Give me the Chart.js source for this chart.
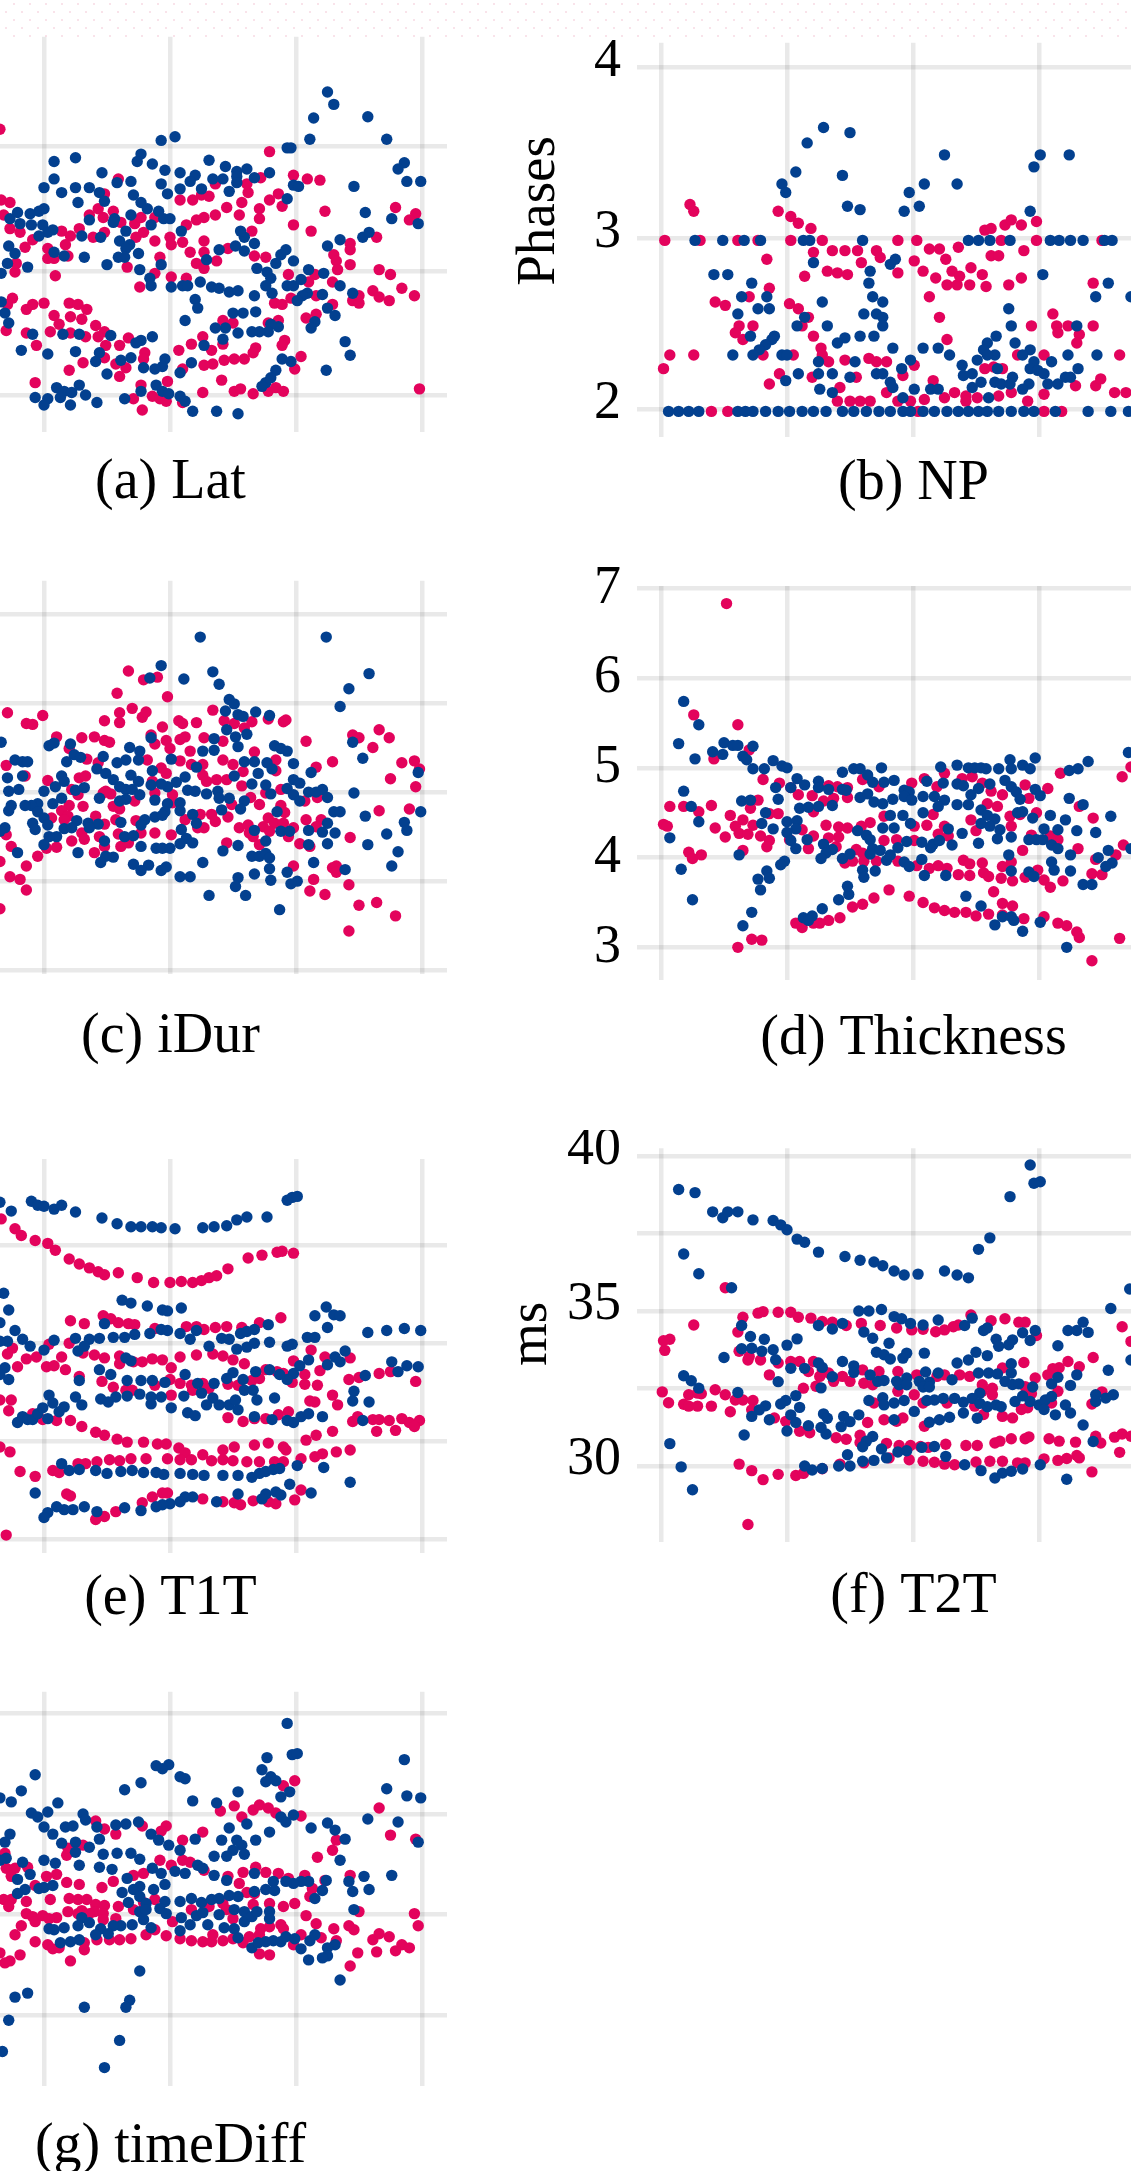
<!DOCTYPE html>
<html>
<head>
<meta charset="utf-8">
<script src="https://cdn.jsdelivr.net/npm/chart.js@4"></script>
<style>
html,body{margin:0;padding:0;background:#fff;overflow:hidden;width:1131px;height:2171px;position:relative}
canvas{position:absolute}
#strip{position:absolute;left:0;top:0;width:1131px;height:38px;background-image:url("data:image/svg+xml,%3Csvg xmlns='http://www.w3.org/2000/svg' width='16' height='16'%3E%3Crect x='13' y='3' width='2' height='2' fill='%23f9e3ea'/%3E%3Crect x='5' y='11' width='2' height='2' fill='%23f9e3ea'/%3E%3C/svg%3E")}
.ytitle{position:absolute;font-family:"Liberation Serif";font-size:55px;line-height:1;color:#000;white-space:nowrap;transform:translate(-50%,-50%) rotate(-90deg)}
</style>
</head>
<body>
<div id="strip"></div>
<div class="ytitle" style="left:535px;top:211px">Phases</div>
<div class="ytitle" style="left:527px;top:1334px">ms</div>
<script>
const xGrid = [0,100,200,300,400];
const red = "#E3035C", blue = "#03408F";

// y ticks, the left column labels are cut off in the picture so those are just grid steps
const latTicks = [100,200,300];
const npTicks = [2,3,4];
const iDurTicks = [100,200,300,400,500];
const thickTicks = [3,4,5,6,7];
const t1Ticks = [100,200,300,400];
const t2Ticks = [30,32.5,35,37.5,40];
const diffTicks = [100,200,300,400];

const latBlue = [[325,344],[330,334],[314,323],[357,324],[311,306],[372,306],[193,305],[204,308],[293,299],[296,299],[386,287],[381,282],[388,272],[399,272],[346,268],[125,291],[108,288],[177,294],[174,288],[186,286],[196,281],[208,279],[231,289],[244,284],[253,280],[261,282],[253,276],[267,275],[279,279],[220,277],[216,272],[208,266],[193,270],[198,262],[225,266],[234,274],[242,274],[247,264],[253,271],[298,269],[302,268],[293,258],[146,279],[158,271],[169,272],[108,274],[100,267],[114,263],[125,267],[136,267],[144,263],[148,256],[127,255],[171,261],[177,255],[182,250],[191,248],[195,242],[200,242],[100,250],[96,248],[89,246],[79,247],[73,242],[81,238],[90,237],[99,237],[107,233],[103,231],[96,228],[136,241],[156,242],[155,239],[169,245],[165,232],[185,237],[209,232],[130,228],[145,227],[160,224],[168,221],[165,218],[175,214],[159,211],[164,211],[150,205],[132,211],[116,212],[108,215],[87,203],[77,214],[72,220],[71,206],[66,198],[193,205],[176,201],[184,194],[185,188],[201,187],[210,188],[214,188],[224,191],[233,187],[239,186],[247,183],[254,184],[229,209],[239,217],[252,220],[259,216],[267,222],[259,227],[256,232],[269,202],[277,199],[280,194],[276,188],[281,182],[284,206],[288,213],[292,217],[298,208],[293,188],[298,188],[304,193],[310,201],[322,198],[335,188],[345,182],[325,220],[335,225],[353,227],[358,231],[355,247],[376,242],[397,238],[267,180],[220,177],[222,170],[212,160],[250,166],[258,166],[268,167],[309,182],[305,180],[301,176],[321,181],[325,170],[331,164],[315,159],[312,154],[339,143],[343,132],[324,120],[286,155],[280,157],[278,151],[271,151],[265,151],[254,150],[244,154],[242,145],[236,154],[227,140],[217,126],[208,118],[196,129],[194,123],[188,121],[179,122],[186,147],[177,144],[173,142],[153,148],[128,149],[115,149],[91,149],[69,166],[72,158],[66,175],[82,136],[103,133],[125,135],[144,134],[141,127],[169,130],[161,128],[150,117],[289,129],[296,127],[284,120],[280,114],[276,110],[273,107],[110,106],[116,103],[128,108],[122,102],[113,98],[133,100],[93,98],[103,97],[100,92],[121,92],[142,94],[164,97],[177,103],[189,108],[194,103],[199,101],[208,99],[212,95],[218,87],[237,87],[254,85]];
const latRed = [[65,314],[279,296],[298,277],[309,274],[319,273],[208,257],[218,257],[225,261],[231,260],[159,274],[148,262],[257,255],[262,263],[261,270],[272,275],[236,270],[286,262],[279,257],[271,250],[289,252],[245,251],[236,245],[255,245],[271,242],[227,243],[221,241],[213,237],[298,237],[312,232],[323,248],[379,251],[395,246],[390,241],[66,257],[73,255],[136,245],[143,250],[155,248],[147,243],[161,239],[172,238],[177,243],[188,243],[68,245],[73,234],[81,231],[85,219],[91,225],[114,232],[121,228],[128,234],[117,221],[139,227],[148,231],[173,227],[179,231],[188,224],[200,227],[201,221],[210,223],[216,215],[227,224],[227,215],[221,206],[227,202],[237,208],[246,218],[265,232],[267,212],[276,211],[364,227],[343,222],[343,217],[330,213],[332,208],[333,201],[343,205],[366,201],[375,197],[384,186],[394,180],[361,184],[366,179],[374,176],[345,176],[350,174],[350,180],[329,173],[329,191],[315,197],[310,191],[294,197],[316,180],[296,178],[283,174],[289,173],[316,165],[308,162],[286,160],[278,158],[250,158],[242,160],[103,218],[103,210],[108,210],[119,212],[109,196],[77,199],[78,206],[166,203],[192,211],[188,198],[176,187],[201,195],[213,194],[75,178],[71,173],[86,169],[91,173],[100,174],[120,174],[127,173],[134,169],[108,164],[121,163],[130,161],[112,157],[70,152],[86,150],[94,140],[105,151],[121,150],[141,156],[148,151],[143,147],[133,147],[167,146],[160,140],[149,140],[148,130],[131,126],[120,120],[157,125],[165,122],[160,115],[180,134],[179,129],[207,136],[217,141],[226,147],[242,141],[233,136],[268,138],[266,134],[259,129],[251,129],[243,128],[234,125],[227,124],[210,121],[291,144],[289,140],[304,131],[299,121],[241,112],[93,110],[198,111],[177,108],[226,102],[251,103],[256,105],[266,101],[278,103],[284,106],[290,103],[398,105],[171,97],[178,88],[186,99],[192,97],[197,95],[210,94]];

const npBlue = [[129,3.65],[150,3.62],[116,3.56],[144,3.37],[107,3.39],[96,3.32],[99,3.27],[148,3.19],[158,3.17],[193,3.16],[197,3.27],[205,3.19],[209,3.32],[225,3.49],[235,3.32],[296,3.42],[301,3.49],[324,3.49],[293,3.16],[27,2.99],[49,2.99],[66,2.99],[79,2.99],[113,2.99],[118,2.99],[160,2.99],[244,2.99],[252,2.99],[261,2.99],[277,2.99],[309,2.99],[316,2.99],[325,2.99],[335,2.99],[352,2.99],[358,2.99],[121,2.86],[182,2.85],[186,2.88],[166,2.81],[165,2.74],[42,2.79],[53,2.79],[72,2.74],[303,2.79],[355,2.74],[64,2.66],[84,2.66],[168,2.66],[176,2.63],[128,2.63],[345,2.66],[373,2.66],[61,2.56],[77,2.59],[86,2.59],[276,2.59],[161,2.56],[171,2.56],[176,2.54],[114,2.54],[132,2.49],[108,2.49],[176,2.49],[278,2.49],[330,2.49],[71,2.43],[90,2.43],[88,2.41],[158,2.43],[169,2.43],[146,2.42],[140,2.39],[266,2.43],[259,2.39],[281,2.39],[83,2.38],[78,2.35],[73,2.32],[57,2.32],[96,2.32],[100,2.32],[184,2.36],[208,2.36],[220,2.36],[229,2.32],[256,2.35],[265,2.32],[259,2.32],[293,2.35],[287,2.32],[323,2.32],[346,2.32],[125,2.28],[154,2.28],[198,2.29],[251,2.29],[239,2.26],[310,2.28],[191,2.24],[125,2.21],[136,2.21],[171,2.21],[176,2.21],[267,2.24],[296,2.28],[293,2.24],[299,2.23],[304,2.21],[331,2.24],[247,2.21],[240,2.2],[109,2.21],[99,2.17],[150,2.19],[182,2.16],[184,2.13],[254,2.16],[247,2.13],[265,2.16],[270,2.15],[279,2.19],[277,2.15],[292,2.15],[287,2.12],[307,2.15],[315,2.15],[321,2.19],[325,2.19],[126,2.12],[136,2.1],[201,2.12],[214,2.12],[220,2.12],[192,2.07],[260,2.07],[6,1.99],[14,1.99],[22,1.99],[30,1.99],[61,1.99],[67,1.99],[73,1.99],[83,1.99],[93,1.99],[102,1.99],[112,1.99],[121,1.99],[131,1.99],[144,1.99],[153,1.99],[163,1.99],[173,1.99],[182,1.99],[192,1.99],[198,1.99],[208,1.99],[217,1.99],[227,1.99],[236,1.99],[244,1.99],[252,1.99],[259,1.99],[268,1.99],[278,1.99],[288,1.99],[296,1.99],[313,1.99],[339,1.99],[357,1.99],[371,1.99]];
const npRed = [[23,3.2],[26,3.16],[93,3.16],[103,3.13],[109,3.09],[119,3.06],[3,2.99],[31,2.99],[61,2.99],[77,2.99],[103,2.99],[128,2.99],[188,2.99],[203,2.99],[270,2.99],[298,2.99],[350,2.99],[136,2.93],[146,2.93],[156,2.93],[171,2.93],[121,2.92],[84,2.88],[174,2.89],[159,2.86],[201,2.87],[213,2.94],[221,2.94],[236,2.95],[226,2.88],[257,3.05],[262,3.06],[273,3.08],[278,3.11],[286,3.08],[298,3.1],[288,2.93],[262,2.9],[268,2.9],[132,2.81],[140,2.8],[148,2.79],[114,2.78],[188,2.8],[208,2.81],[218,2.77],[231,2.81],[227,2.73],[235,2.73],[237,2.78],[245,2.73],[255,2.79],[246,2.83],[258,2.72],[276,2.73],[286,2.77],[343,2.74],[86,2.71],[70,2.66],[43,2.63],[51,2.61],[213,2.66],[102,2.62],[109,2.59],[221,2.54],[311,2.56],[117,2.54],[62,2.49],[73,2.49],[59,2.45],[65,2.41],[121,2.43],[112,2.49],[294,2.49],[314,2.49],[323,2.49],[343,2.49],[315,2.45],[332,2.44],[330,2.39],[227,2.41],[127,2.36],[128,2.32],[7,2.32],[26,2.32],[81,2.32],[105,2.32],[304,2.32],[364,2.32],[283,2.32],[133,2.28],[146,2.29],[165,2.3],[171,2.28],[179,2.28],[2,2.24],[201,2.26],[257,2.24],[94,2.21],[120,2.19],[86,2.15],[155,2.19],[192,2.2],[216,2.17],[264,2.25],[271,2.24],[329,2.14],[345,2.14],[349,2.18],[142,2.13],[179,2.1],[225,2.07],[233,2.1],[242,2.08],[251,2.07],[268,2.08],[278,2.1],[304,2.09],[360,2.1],[369,2.1],[140,2.05],[150,2.05],[158,2.05],[166,2.05],[188,2.05],[198,2.05],[209,2.06],[242,2.05],[291,2.05],[40,1.99],[53,1.99],[304,1.99],[318,1.99],[204,1.99]];

const iDurBlue = [[224,474],[324,474],[193,442],[358,433],[211,427],[234,435],[239,421],[184,428],[342,416],[335,396],[247,404],[251,399],[244,391],[254,387],[258,385],[268,390],[279,386],[245,370],[261,365],[252,362],[254,351],[235,360],[235,347],[226,346],[185,361],[283,352],[288,349],[293,346],[345,356],[353,338],[298,332],[259,334],[267,334],[277,333],[281,326],[270,321],[221,328],[201,337],[168,350],[176,346],[175,336],[165,336],[158,333],[147,340],[124,342],[129,339],[118,334],[121,354],[104,352],[108,355],[66,356],[77,336],[83,334],[87,334],[186,324],[142,326],[149,321],[155,314],[160,306],[165,303],[169,319],[175,312],[170,303],[83,318],[71,316],[114,318],[116,312],[109,306],[100,301],[125,302],[132,305],[72,301],[80,303],[312,322],[298,314],[303,310],[293,304],[310,300],[316,300],[321,303],[298,297],[303,290],[325,294],[346,299],[397,322],[251,318],[265,309],[276,308],[280,298],[212,317],[205,311],[198,306],[193,309],[185,308],[214,302],[220,301],[229,298],[238,301],[239,293],[247,293],[259,290],[256,281],[241,280],[208,288],[208,279],[198,287],[196,278],[188,291],[165,292],[160,290],[176,297],[144,293],[114,293],[107,287],[95,287],[90,285],[85,285],[74,285],[72,279],[95,278],[100,271],[91,265],[93,258],[103,263],[69,260],[65,256],[126,268],[135,265],[143,264],[116,259],[122,260],[136,260],[110,250],[104,250],[100,241],[148,245],[161,266],[188,272],[180,269],[177,263],[194,274],[164,250],[171,251],[177,239],[189,237],[194,237],[200,237],[218,275],[221,265],[209,258],[213,248],[218,243],[208,242],[285,278],[325,265],[321,255],[331,254],[325,242],[330,278],[335,278],[355,273],[372,253],[386,266],[388,257],[399,278],[357,241],[381,233],[376,217],[288,256],[295,256],[310,257],[310,241],[267,257],[276,245],[254,240],[242,234],[265,228],[271,228],[276,231],[279,226],[279,214],[226,221],[127,232],[155,227],[149,228],[145,221],[171,219],[183,218],[177,212],[193,212],[197,216],[208,205],[216,205],[267,208],[254,204],[252,194],[260,184],[231,184],[280,201],[293,210],[301,200],[296,197],[314,221],[339,213],[287,168],[79,232]];
const iDurRed = [[167,436],[179,426],[190,429],[158,411],[198,407],[170,394],[160,389],[160,378],[178,384],[181,390],[148,380],[234,392],[243,380],[251,377],[259,372],[265,379],[278,382],[290,379],[292,381],[71,389],[86,377],[91,376],[99,386],[194,373],[207,380],[210,377],[221,378],[110,362],[130,361],[140,362],[148,358],[152,356],[185,364],[188,354],[197,358],[200,349],[208,359],[212,362],[227,361],[242,357],[216,346],[308,357],[345,364],[350,361],[366,370],[374,361],[361,350],[267,345],[284,336],[329,334],[384,333],[394,335],[398,326],[375,315],[395,306],[134,337],[120,349],[182,336],[208,335],[242,336],[250,331],[217,331],[226,331],[143,333],[193,327],[197,321],[70,330],[316,328],[258,323],[284,324],[226,319],[229,312],[237,314],[245,314],[103,313],[128,316],[133,318],[122,303],[127,297],[85,318],[186,312],[257,307],[288,303],[147,299],[153,298],[149,301],[202,297],[188,299],[264,294],[276,299],[271,286],[317,294],[307,290],[288,285],[291,277],[155,284],[160,281],[172,290],[131,284],[120,285],[114,279],[119,273],[116,269],[106,271],[202,288],[224,275],[233,275],[236,267],[246,272],[249,286],[366,279],[390,281],[308,269],[157,269],[173,268],[212,269],[141,273],[148,264],[227,260],[222,260],[255,260],[262,263],[263,254],[278,271],[283,265],[274,261],[279,256],[290,265],[298,260],[294,250],[320,269],[316,261],[130,254],[132,247],[122,245],[159,253],[144,250],[148,239],[161,239],[167,243],[177,254],[188,254],[201,252],[343,249],[245,243],[266,250],[271,241],[303,242],[311,239],[70,252],[74,239],[102,237],[110,238],[140,232],[95,228],[65,222],[86,217],[73,205],[81,202],[86,190],[298,217],[329,215],[332,217],[332,210],[314,202],[342,196],[311,189],[323,185],[350,173],[364,176],[379,161],[342,144],[65,169]];

const thickBlue = [[18,5.74],[30,5.48],[14,5.27],[27,5.1],[41,5.18],[50,5.28],[49,5.15],[57,5.25],[61,5.25],[73,5.24],[65,5.13],[68,5.09],[73,4.99],[82,4.99],[89,5.08],[96,5.02],[100,5],[235,5.03],[244,5],[249,5],[254,5],[258,4.99],[268,4.99],[277,5.09],[278,4.99],[287,5.03],[293,4.99],[297,5.11],[324,4.97],[331,4.99],[339,5.07],[371,5.17],[144,4.95],[153,4.99],[158,4.99],[175,5],[222,5.01],[18,4.74],[24,4.57],[30,4.4],[7,4.22],[16,3.87],[25,3.53],[108,4.88],[114,4.81],[103,4.78],[91,4.78],[93,4.65],[125,4.85],[125,4.78],[133,4.76],[144,4.76],[147,4.75],[164,4.92],[168,4.84],[177,4.84],[185,4.86],[193,4.75],[197,4.73],[64,4.63],[71,4.64],[158,4.67],[164,4.71],[169,4.62],[176,4.6],[184,4.65],[193,4.68],[199,4.64],[211,4.85],[208,4.68],[217,4.68],[225,4.64],[220,4.57],[224,4.83],[235,4.82],[240,4.8],[252,4.77],[261,4.82],[273,4.86],[278,4.79],[282,4.73],[285,4.65],[297,4.76],[301,4.69],[324,4.66],[335,4.59],[357,4.46],[110,4.55],[117,4.56],[125,4.57],[136,4.58],[83,4.5],[80,4.38],[89,4.32],[100,4.4],[108,4.41],[107,4.32],[100,4.28],[103,4.19],[116,4.2],[107,4.1],[129,4.15],[136,4.09],[131,4.05],[127,3.99],[144,3.99],[150,4.04],[156,4.3],[163,4.25],[166,4.2],[168,4.1],[174,4.08],[166,4.04],[179,3.97],[182,4.03],[176,4.33],[185,4.33],[182,4.47],[192,4.47],[198,4.38],[208,4.5],[195,4.18],[188,4.11],[207,4.17],[216,4.15],[221,4.19],[214,4.11],[231,4.14],[228,4.32],[239,4.27],[235,4.59],[244,4.59],[246,4.7],[254,4.53],[259,4.47],[265,4.43],[254,4.38],[261,4.35],[269,4.31],[267,4.21],[252,4.16],[278,4.23],[283,4.5],[287,4.51],[295,4.44],[304,4.32],[309,4.47],[315,4.31],[321,4.42],[330,4.3],[345,4.28],[292,4.2],[298,4.2],[303,4.2],[310,4.14],[315,4.1],[276,4.03],[325,4.03],[355,4.08],[347,4],[358,3.94],[353,3.9],[373,4.1],[62,4.03],[98,3.96],[95,3.92],[84,3.85],[86,3.77],[77,3.76],[79,3.64],[72,3.39],[65,3.24],[149,3.59],[148,3.68],[141,3.53],[128,3.43],[120,3.35],[113,3.33],[117,3.3],[160,3.86],[161,3.78],[170,3.85],[193,3.95],[197,3.9],[207,3.98],[209,3.8],[226,3.8],[278,3.85],[292,3.84],[296,3.79],[310,3.95],[312,3.86],[325,3.85],[335,3.7],[342,3.7],[242,3.57],[254,3.46],[265,3.25],[271,3.34],[278,3.34],[280,3.3],[287,3.18],[301,3.28],[322,3]];
const thickRed = [[52,6.83],[26,5.59],[61,5.48],[70,5.2],[317,4.94],[366,4.9],[373,5.01],[42,5.1],[225,4.94],[239,4.88],[247,4.9],[255,4.83],[94,4.83],[81,4.87],[133,4.8],[140,4.79],[148,4.78],[160,4.87],[173,4.79],[199,4.83],[209,4.88],[219,4.79],[289,4.81],[307,4.77],[7,4.57],[18,4.57],[40,4.58],[30,4.51],[77,4.64],[71,4.55],[55,4.47],[93,4.49],[109,4.7],[103,4.78],[120,4.69],[129,4.63],[137,4.66],[148,4.67],[121,4.51],[262,4.74],[271,4.7],[292,4.66],[259,4.6],[267,4.57],[277,4.46],[285,4.48],[298,4.5],[332,4.57],[343,4.44],[2,4.37],[5,4.35],[43,4.33],[51,4.23],[59,4.35],[65,4.42],[73,4.36],[62,4.27],[69,4.26],[79,4.24],[86,4.19],[84,4.12],[86,4.49],[102,4.2],[112,4.31],[121,4.24],[131,4.36],[141,4.34],[148,4.33],[159,4.35],[166,4.39],[177,4.46],[201,4.35],[211,4.36],[216,4.48],[225,4.35],[220,4.26],[228,4.24],[246,4.42],[278,4.35],[250,4.3],[141,4.23],[139,4.12],[117,4.1],[133,4.22],[177,4.19],[201,4.19],[187,4.2],[294,4.25],[315,4.2],[309,4.24],[331,4.1],[287,4.08],[22,4.06],[32,4.03],[25,3.99],[65,4.08],[361,4.03],[367,4.14],[155,4.09],[160,4.05],[146,3.94],[152,3.96],[161,3.96],[171,3.96],[188,3.96],[203,3.91],[213,3.88],[220,3.91],[227,3.88],[240,3.97],[245,3.93],[255,3.94],[271,3.9],[278,3.95],[256,3.83],[260,3.79],[270,3.77],[279,3.74],[236,3.81],[245,3.8],[289,3.78],[299,3.86],[304,3.75],[309,3.67],[319,3.74],[342,3.82],[350,3.81],[345,3.98],[181,3.64],[197,3.57],[169,3.55],[160,3.48],[152,3.45],[142,3.33],[133,3.3],[126,3.27],[121,3.27],[112,3.22],[107,3.27],[208,3.5],[217,3.44],[225,3.41],[233,3.39],[242,3.39],[250,3.35],[260,3.37],[264,3.62],[271,3.49],[279,3.46],[271,3.36],[288,3.32],[304,3.34],[315,3.27],[322,3.24],[330,3.17],[332,3.11],[364,3.1],[342,2.85],[61,3],[72,3.09],[80,3.08]];

const t1Blue = [[65,444],[90,445],[95,441],[100,440],[108,437],[114,441],[125,434],[74,435],[146,428],[158,422],[169,419],[177,419],[186,419],[193,418],[204,417],[226,418],[235,419],[245,420],[253,426],[261,429],[277,429],[293,446],[297,449],[301,450],[68,351],[72,334],[65,321],[162,344],[169,341],[182,338],[194,334],[198,333],[209,336],[77,313],[83,304],[89,297],[71,302],[65,302],[100,293],[108,303],[125,305],[127,292],[136,304],[132,297],[144,305],[148,320],[155,306],[164,306],[172,309],[184,310],[193,314],[198,313],[208,310],[221,313],[216,304],[231,297],[241,305],[247,304],[253,294],[261,296],[267,300],[256,310],[261,312],[267,314],[278,319],[279,301],[293,297],[297,299],[309,306],[315,306],[315,328],[324,337],[330,329],[335,328],[325,316],[357,311],[372,313],[386,315],[399,313],[310,283],[303,277],[298,269],[293,263],[287,268],[279,273],[268,271],[258,263],[250,270],[245,264],[235,259],[222,259],[212,268],[196,260],[186,262],[177,262],[166,262],[153,268],[144,273],[128,262],[165,285],[169,282],[325,278],[331,286],[335,281],[339,292],[376,281],[381,271],[388,277],[397,276],[355,267],[69,275],[65,268],[72,263],[104,247],[107,239],[112,230],[116,235],[125,245],[130,237],[145,243],[151,240],[157,245],[166,246],[176,248],[185,245],[185,238],[193,245],[201,234],[211,246],[214,229],[220,226],[225,249],[234,244],[229,237],[239,237],[247,237],[252,242],[254,232],[259,252],[266,252],[269,242],[283,244],[346,251],[345,241],[358,240],[267,225],[281,222],[293,221],[298,219],[304,225],[310,228],[321,225],[353,221],[79,219],[83,225],[87,222],[91,222],[95,228],[99,234],[103,223],[114,177],[120,170],[128,171],[141,170],[150,167],[161,169],[170,170],[179,168],[189,168],[195,166],[208,167],[218,166],[227,165],[242,165],[254,165],[265,163],[271,167],[276,169],[282,171],[287,172],[301,175],[322,173],[343,158],[295,156],[312,147],[93,147],[254,146],[276,146],[284,148],[288,145],[273,141],[218,143],[212,143],[208,138],[200,136],[194,135],[189,133],[237,138],[177,129],[164,132],[142,128],[132,133],[123,130],[116,130],[110,133],[103,127],[100,122]];
const t1Red = [[66,427],[77,417],[82,410],[93,405],[103,402],[109,395],[120,386],[128,381],[136,377],[143,373],[148,370],[159,372],[174,367],[187,362],[200,362],[209,363],[218,362],[225,364],[231,367],[237,369],[246,376],[262,387],[273,390],[285,393],[289,394],[298,392],[121,323],[132,320],[147,328],[153,325],[159,321],[167,320],[172,319],[188,315],[213,317],[221,317],[227,314],[236,316],[245,317],[257,316],[271,321],[288,326],[104,299],[120,300],[131,290],[140,288],[148,285],[160,287],[160,279],[171,281],[178,281],[186,284],[194,283],[201,275],[208,286],[221,288],[234,289],[242,287],[250,283],[259,279],[312,293],[298,282],[323,286],[343,285],[75,295],[71,289],[86,284],[94,286],[79,276],[102,276],[108,277],[114,286],[117,273],[128,266],[319,272],[342,263],[350,265],[366,269],[375,271],[395,261],[146,261],[155,255],[165,252],[170,252],[188,257],[200,263],[208,259],[217,257],[226,259],[231,254],[246,258],[254,257],[265,262],[271,264],[276,273],[285,271],[290,269],[297,260],[307,268],[307,258],[317,257],[65,242],[74,242],[72,231],[201,247],[218,252],[329,247],[333,237],[311,241],[315,240],[91,228],[99,222],[110,221],[121,221],[130,215],[141,209],[148,206],[158,202],[166,199],[179,199],[190,197],[197,197],[207,193],[212,188],[246,224],[258,220],[267,223],[276,223],[286,227],[294,230],[345,220],[349,225],[361,222],[366,222],[374,221],[384,223],[390,219],[398,221],[394,215],[364,210],[379,211],[329,210],[316,206],[308,201],[73,189],[65,194],[81,169],[93,164],[107,170],[112,168],[127,177],[133,177],[142,179],[152,181],[160,180],[169,182],[181,182],[198,182],[208,181],[217,181],[226,186],[233,180],[242,191],[251,194],[242,181],[250,180],[261,179],[271,179],[267,196],[278,198],[290,194],[292,191],[283,179],[290,179],[304,182],[315,184],[321,187],[332,189],[343,191],[118,146],[121,144],[304,150],[186,143],[194,147],[198,147],[178,137],[157,128],[148,123],[141,120],[226,141],[242,138],[251,137],[256,135],[266,139],[278,138],[284,136],[299,140],[70,104]];

const t2Blue = [[293,39.71],[301,39.17],[296,39.12],[277,38.69],[14,38.92],[27,38.82],[41,38.2],[49,38.01],[53,38.2],[61,38.2],[73,37.94],[89,37.92],[95,37.78],[100,37.62],[108,37.32],[114,37.22],[125,36.9],[146,36.76],[158,36.64],[169,36.58],[176,36.46],[185,36.29],[193,36.16],[204,36.19],[225,36.29],[235,36.16],[244,36.07],[252,36.99],[261,37.36],[18,36.84],[30,36.2],[56,35.75],[372,35.71],[357,35.08],[157,35],[165,35],[175,35.05],[185,34.82],[191,34.75],[198,34.6],[208,34.55],[220,34.71],[247,34.77],[241,34.53],[125,34.53],[136,34.42],[144,34.6],[64,34.53],[161,34.32],[168,34.12],[181,33.96],[256,34.37],[259,34.45],[266,34.09],[268,33.86],[276,33.91],[279,34.07],[287,34.3],[293,34.05],[297,34.37],[315,33.88],[323,34.37],[330,34.37],[335,34.64],[339,34.31],[71,34.18],[82,34.09],[64,33.78],[72,33.8],[80,33.7],[89,33.75],[91,33.43],[108,34.1],[100,33.9],[50,33.5],[103,33.15],[114,33.15],[125,33.32],[128,33.18],[144,33.37],[153,33.23],[171,33.67],[177,33.59],[182,33.45],[192,33.48],[195,33.64],[209,33.64],[235,33.32],[244,33.42],[250,33.67],[259,33.56],[278,33.3],[210,33.03],[220,33],[213,32.7],[205,32.73],[330,32.94],[355,33.09],[373,33.42],[18,32.91],[24,32.75],[30,32.51],[61,32.37],[93,32.72],[136,32.88],[153,33.02],[127,32.52],[107,32.27],[99,32.11],[95,32],[166,32.94],[172,32.73],[177,32.76],[187,32.73],[195,32.84],[189,32.62],[195,32.62],[208,32.55],[213,32.55],[231,32.78],[252,33],[260,33],[267,32.97],[273,32.73],[278,33],[279,32.63],[284,32.65],[295,32.55],[315,32.86],[310,32.65],[325,32.6],[253,32.35],[165,32.11],[176,32.2],[177,31.97],[185,32.03],[193,32.11],[211,32.11],[217,32.13],[224,32.18],[233,32.18],[240,32.06],[247,32.18],[253,32.02],[259,31.91],[266,31.97],[270,31.91],[281,32.08],[287,32.26],[293,32.08],[300,31.97],[305,32.13],[310,32.24],[345,32.3],[345,32.08],[353,32.19],[359,32.3],[321,31.97],[240,31.71],[201,31.76],[325,31.71],[313,31.65],[304,31.82],[110,31.89],[83,31.94],[78,31.81],[72,31.6],[103,31.65],[129,31.68],[132,31.54],[145,31.6],[157,31.65],[150,31.43],[143,31.27],[86,31.49],[107,31.4],[117,31.3],[127,31.24],[131,31.03],[66,31],[100,31.13],[185,31.49],[213,31.41],[221,31.49],[229,31.57],[251,31.54],[335,31.32],[343,30.79],[7,30.72],[16,29.97],[25,29.23],[175,30.55],[168,30.95],[163,30.8],[160,30.62],[148,30.36],[188,30.45],[195,30.49],[179,30.26],[169,30.18],[160,30.15],[150,30],[141,30],[128,29.92],[120,29.87],[114,30],[207,30.6],[217,30.63],[226,30.31],[241,30.04],[254,29.85],[265,29.61],[271,29.77],[278,29.83],[287,29.9],[301,30.04],[322,29.57]];
const t2Red = [[51,35.75],[65,34.8],[77,34.93],[81,34.98],[93,34.96],[103,34.96],[109,34.8],[119,34.77],[128,34.66],[136,34.64],[147,34.53],[159,34.6],[174,34.53],[187,34.45],[199,34.39],[208,34.41],[218,34.33],[225,34.39],[232,34.49],[236,34.55],[246,34.87],[262,34.69],[273,34.75],[284,34.64],[289,34.64],[298,34.21],[26,34.55],[7,34.09],[2,34.04],[3,33.73],[61,34.32],[366,34.49],[373,34.02],[62,33.7],[69,33.42],[70,33.53],[79,33.42],[93,33.32],[103,33.37],[110,33.37],[121,33.37],[128,33.1],[133,33],[343,33.5],[288,33.34],[271,33.16],[316,33.17],[323,33.37],[332,33.2],[311,33.14],[307,32.94],[297,32.84],[86,32.94],[117,33.05],[144,32.89],[150,32.73],[160,33.1],[173,33.05],[188,33.05],[203,32.94],[219,32.89],[237,32.94],[245,32.89],[225,32.94],[255,32.62],[263,32.51],[137,32.73],[126,32.89],[161,32.67],[168,32.62],[294,32.33],[289,32.56],[1,32.39],[6,32.04],[18,31.99],[22,32.3],[29,32.35],[32,32.33],[22,31.93],[29,31.93],[40,31.93],[43,32.46],[51,32.3],[55,31.75],[59,32.13],[65,32.13],[73,32.11],[72,31.81],[113,32.51],[123,32.57],[188,32.41],[201,32.3],[208,32.03],[169,32.03],[227,32.03],[255,32.41],[263,32.3],[310,32.03],[315,32.41],[342,32],[350,32.39],[90,31.55],[99,31.44],[110,31.12],[118,31.07],[164,31.4],[177,31.49],[187,31.44],[192,31.55],[209,31.28],[249,31.93],[256,31.66],[271,31.6],[279,31.55],[286,31.82],[291,31.88],[139,30.91],[147,30.86],[158,30.99],[158,30.76],[179,30.73],[189,30.66],[198,30.66],[206,30.63],[212,30.6],[226,30.7],[242,30.66],[251,30.66],[265,30.74],[269,30.8],[278,30.88],[289,30.88],[292,30.94],[308,30.88],[316,30.8],[329,30.77],[345,30.96],[349,30.74],[360,30.93],[366,31.03],[373,30.96],[364,30.44],[62,30.06],[72,29.85],[81,29.56],[93,29.73],[107,29.69],[113,29.76],[128,29.91],[142,30.06],[161,30.1],[181,30.26],[197,30.2],[208,30.15],[217,30.12],[225,30.06],[233,30.04],[250,30.13],[261,30.15],[271,30.15],[283,30.1],[289,30.1],[304,30.23],[315,30.18],[322,30.24],[330,30.34],[332,30.26],[342,29.81],[69,28.11]];

const diffBlue = [[293,390],[297,359],[301,360],[277,356],[273,344],[280,337],[276,332],[284,333],[295,322],[288,317],[254,322],[237,311],[218,313],[208,337],[212,335],[199,349],[194,345],[189,348],[177,331],[164,324],[93,339],[82,323],[74,312],[65,316],[111,311],[103,302],[90,301],[95,297],[100,287],[107,280],[114,271],[117,287],[123,288],[131,300],[133,294],[142,287],[157,289],[165,290],[175,292],[144,275],[125,272],[125,262],[136,267],[147,260],[158,261],[169,261],[176,255],[185,280],[191,274],[199,269],[208,264],[220,275],[241,274],[247,286],[261,290],[268,274],[279,282],[288,297],[292,292],[298,299],[312,286],[325,291],[331,284],[339,275],[357,295],[372,325],[386,354],[388,318],[399,316],[381,292],[397,272],[253,274],[257,269],[250,264],[259,260],[245,258],[235,258],[73,280],[69,272],[70,256],[65,254],[83,252],[100,254],[109,251],[128,249],[144,247],[154,245],[166,236],[186,246],[193,241],[204,243],[212,241],[222,249],[226,246],[235,239],[245,234],[267,241],[335,254],[354,238],[376,239],[342,233],[345,223],[358,225],[324,234],[321,224],[315,216],[310,233],[304,233],[298,231],[292,233],[282,233],[276,225],[283,224],[267,223],[89,240],[79,235],[85,225],[79,221],[96,226],[100,227],[107,229],[196,230],[187,225],[176,228],[171,225],[162,222],[167,212],[176,218],[181,211],[196,213],[208,213],[217,216],[225,212],[233,215],[239,216],[247,219],[254,218],[176,203],[181,205],[179,195],[192,206],[197,201],[209,197],[216,190],[221,199],[226,202],[230,190],[239,200],[243,187],[251,205],[259,203],[259,193],[265,198],[269,203],[279,203],[279,196],[346,205],[185,187],[170,190],[161,189],[155,189],[145,186],[130,197],[127,189],[136,192],[116,187],[108,185],[104,186],[141,180],[151,181],[128,175],[121,173],[113,172],[208,184],[251,186],[254,177],[265,167],[270,172],[276,173],[282,174],[288,173],[292,178],[299,176],[304,166],[311,174],[315,180],[331,170],[325,167],[325,159],[321,157],[310,155],[335,135],[176,144],[168,115],[165,108],[87,122],[77,118],[72,95],[132,108],[67,64],[160,75],[148,48]];
const diffRed = [[299,333],[290,328],[251,308],[240,303],[266,304],[271,309],[278,306],[284,301],[304,298],[366,306],[257,297],[141,293],[148,285],[157,280],[178,288],[197,288],[193,283],[226,282],[210,274],[375,279],[395,275],[332,274],[329,264],[317,257],[131,269],[118,259],[119,266],[69,261],[192,254],[210,254],[201,249],[216,252],[87,247],[70,246],[77,246],[74,238],[258,242],[268,247],[276,242],[286,241],[246,238],[227,244],[179,241],[171,239],[110,240],[102,238],[118,232],[128,230],[155,233],[146,227],[93,229],[255,231],[294,236],[307,239],[323,234],[343,239],[261,222],[267,221],[313,226],[311,218],[105,215],[86,213],[74,215],[68,215],[72,208],[120,216],[127,215],[134,215],[141,210],[148,209],[159,208],[130,204],[119,203],[140,203],[147,201],[86,201],[91,198],[93,193],[99,199],[110,197],[104,196],[127,201],[136,201],[147,195],[157,196],[171,205],[179,212],[188,215],[202,193],[217,205],[231,208],[242,211],[250,196],[245,205],[266,210],[279,211],[290,208],[299,211],[308,199],[316,191],[350,203],[394,201],[397,189],[342,189],[346,185],[330,186],[82,189],[77,180],[93,173],[103,170],[107,166],[112,167],[132,165],[132,172],[142,175],[152,175],[160,175],[169,176],[181,180],[188,185],[197,179],[208,176],[217,174],[226,173],[233,173],[234,180],[242,174],[250,176],[258,172],[263,178],[271,180],[272,186],[279,188],[288,190],[290,186],[298,170],[304,180],[320,177],[332,174],[361,175],[366,181],[374,178],[271,161],[279,160],[384,170],[379,164],[390,167],[364,163],[349,162],[343,149],[81,160],[73,154],[69,152],[65,162],[121,154]];

function pts(list){ return list.map(p => ({x: p[0], y: p[1]})); }

function panel(o){
  const c = document.createElement("canvas");
  const plotStart = o.col === 1 ? 637 : -106;
  const axisW = 137;
  const w = 700;
  c.width = w; c.height = o.h;
  c.style.left = (plotStart - axisW) + "px"; c.style.top = o.top + "px";
  document.body.appendChild(c);
  const labelled = o.col === 1;
  new Chart(c, {
    type: "scatter",
    data: {datasets: [
      {data: pts(o.blue), backgroundColor: blue, pointRadius: 5.7, borderWidth: 0},
      {data: pts(o.red), backgroundColor: red, pointRadius: 5.7, borderWidth: 0}
    ]},
    options: {
      responsive: false, animation: false,
      layout: {padding: {top: o.plotTop - o.top, left: 0, right: w - axisW - 553, bottom: 0}},
      plugins: {legend: {display: false}, tooltip: {enabled: false}},
      scales: {
        x: {
          type: "linear", min: -19.05, max: 419.85,
          afterBuildTicks: s => { s.ticks = xGrid.map(v => ({value: v})); },
          afterFit: s => { s.height = o.top + o.h - o.plotBottom; s.paddingLeft = 0; s.paddingRight = 0; },
          grid: {color: "rgba(0,0,0,0.085)", lineWidth: 4.5, drawTicks: false},
          border: {display: false},
          ticks: {display: false},
          title: {display: true, text: o.caption, color: "#000", font: {family: "Liberation Serif", size: 56, lineHeight: 1}, padding: 0}
        },
        y: {
          type: "linear", min: o.min, max: o.max,
          afterBuildTicks: s => { s.ticks = o.ticks.map(v => ({value: v})); },
          afterFit: s => { s.width = axisW; s.paddingTop = 0; s.paddingBottom = 0; },
          grid: {color: "rgba(0,0,0,0.085)", lineWidth: 4.5, drawTicks: false},
          border: {display: false},
          ticks: {
            display: labelled, color: "#000", padding: 16,
            font: {family: "Liberation Serif", size: 54, lineHeight: (o.shift || 1) * 2 + "px"},
            callback: v => {
              const show = Number.isInteger(v) && (!o.labelEvery || v % o.labelEvery === 0);
              if (!show) return "";
              return o.shift ? [String(v), ""] : String(v);
            }
          }
        }
      }
    }
  });
}

panel({col:0, top:0, h:511, plotTop:36.7, plotBottom:431.7, min:70.5, max:388.5, ticks:latTicks, caption:"(a) Lat", blue:latBlue, red:latRed});
panel({col:1, top:0, h:512, plotTop:42.7, plotBottom:436.7, min:1.842, max:4.146, ticks:npTicks, caption:"(b) NP", shift:5.5, blue:npBlue, red:npRed});
panel({col:0, top:560, h:505.5, plotTop:580.7, plotBottom:974.3, min:96, max:537.3, ticks:iDurTicks, caption:"(c) iDur", blue:iDurBlue, red:iDurRed});
panel({col:1, top:560, h:507, plotTop:586, plotBottom:980, min:2.636, max:7.026, ticks:thickTicks, caption:"(d) Thickness", blue:thickBlue, red:thickRed});
panel({col:0, top:1130, h:497, plotTop:1159, plotBottom:1553.3, min:85.4, max:488.2, ticks:t1Ticks, caption:"(e) T1T", blue:t1Blue, red:t1Red});
panel({col:1, top:1130, h:495.5, plotTop:1148.3, plotBottom:1542.7, min:27.54, max:40.25, ticks:t2Ticks, caption:"(f) T2T", labelEvery:5, shift:6, blue:t2Blue, red:t2Red});
panel({col:0, top:1680, h:495, plotTop:1691.7, plotBottom:2085.7, min:30, max:421.5, ticks:diffTicks, caption:"(g) timeDiff", blue:diffBlue, red:diffRed});
</script>
</body>
</html>
